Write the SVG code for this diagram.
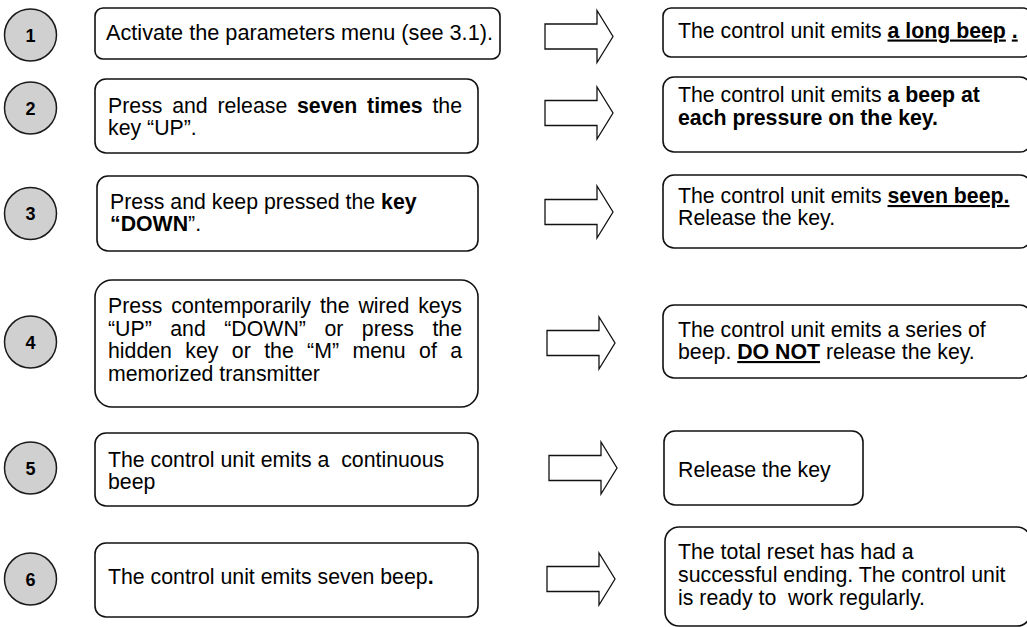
<svg xmlns="http://www.w3.org/2000/svg" width="1027" height="627" viewBox="0 0 1027 627">
  <style>
    .box { fill: #ffffff; stroke: #111111; stroke-width: 1.6; }
    .step { fill: #d0d0d0; stroke: #1a1a1a; stroke-width: 1.5; }
    .num { font-family: "Liberation Sans", Arial, sans-serif; font-size: 18px; font-weight: bold; fill: #000; text-anchor: middle; }
    .t { font-family: "Liberation Sans", Arial, sans-serif; font-size: 21.3px; fill: #000; }
    .big { font-size: 21.7px; }
    .b { font-weight: bold; }
    .u { text-decoration: underline; }
    .arrow { fill: #ffffff; stroke: #111111; stroke-width: 1.3; stroke-linejoin: miter; }
  </style>
  <defs>
    <!-- block arrow, origin at the left end of the shaft, centred vertically -->
    <polygon id="blockArrow" points="0,-12.5 52,-12.5 52,-26 68,0 52,26 52,12.5 0,12.5"/>
  </defs>

  <rect width="1027" height="627" fill="#ffffff"/>

  <!-- step numbers -->
  <g id="step1"><ellipse class="step" cx="30.5" cy="35" rx="26" ry="26"/><text class="num" x="30.5" y="41.5">1</text></g>
  <g id="step2"><ellipse class="step" cx="30.5" cy="108" rx="26" ry="26"/><text class="num" x="30.5" y="114.5">2</text></g>
  <g id="step3"><ellipse class="step" cx="30.5" cy="213.5" rx="26" ry="26"/><text class="num" x="30.5" y="220">3</text></g>
  <g id="step4"><ellipse class="step" cx="30.5" cy="342" rx="26" ry="26"/><text class="num" x="30.5" y="348.5">4</text></g>
  <g id="step5"><ellipse class="step" cx="30.5" cy="468" rx="26" ry="26"/><text class="num" x="30.5" y="474.5">5</text></g>
  <g id="step6"><ellipse class="step" cx="30.5" cy="579" rx="26" ry="26"/><text class="num" x="30.5" y="585.5">6</text></g>

  <!-- actions -->
  <g id="action1">
    <rect class="box" x="95" y="8" width="405" height="51" rx="8"/>
    <text class="t big" x="106" y="40">Activate the parameters menu (see 3.1).</text>
  </g>
  <g id="action2">
    <rect class="box" x="95" y="79" width="383" height="74" rx="11"/>
    <text class="t" y="113"><tspan x="108">Press</tspan><tspan x="172.16">and</tspan><tspan x="217.41">release</tspan><tspan class="b" x="296.97">seven</tspan><tspan class="b" x="367.08">times</tspan><tspan x="432.44">the</tspan></text>
    <text class="t" x="108" y="135">key “UP”.</text>
  </g>
  <g id="action3">
    <rect class="box" x="97" y="176" width="381" height="75" rx="11"/>
    <text class="t" x="110" y="209">Press and keep pressed the <tspan class="b">key</tspan></text>
    <text class="t" x="110" y="231"><tspan class="b">“DOWN</tspan>”.</text>
  </g>
  <g id="action4">
    <rect class="box" x="95" y="280" width="383" height="127" rx="17"/>
    <text class="t" y="313"><tspan x="108">Press</tspan><tspan x="171.34">contemporarily</tspan><tspan x="319.90">the</tspan><tspan x="358.41">wired</tspan><tspan x="418.20">keys</tspan></text>
    <text class="t" y="336"><tspan x="108">“UP”</tspan><tspan x="170.26">and</tspan><tspan x="224.28">“DOWN”</tspan><tspan x="324.39">or</tspan><tspan x="361.82">press</tspan><tspan x="432.39">the</tspan></text>
    <text class="t" y="358"><tspan x="108">hidden</tspan><tspan x="185.31">key</tspan><tspan x="231.82">or</tspan><tspan x="264.13">the</tspan><tspan x="307.11">“M”</tspan><tspan x="352.41">menu</tspan><tspan x="419.05">of</tspan><tspan x="450.18">a</tspan></text>
    <text class="t" x="108" y="381">memorized transmitter</text>
  </g>
  <g id="action5">
    <rect class="box" x="95" y="433" width="383" height="73" rx="11"/>
    <text class="t" x="108" y="467" xml:space="preserve">The control unit emits a  continuous</text>
    <text class="t" x="108" y="489">beep</text>
  </g>
  <g id="action6">
    <rect class="box" x="95" y="543" width="383" height="74" rx="11"/>
    <text class="t" x="108" y="584">The control unit emits seven beep<tspan class="b">.</tspan></text>
  </g>

  <!-- arrows from each action to its result -->
  <g id="connectors" class="arrow">
    <use href="#blockArrow" x="545" y="36.5"/>
    <use href="#blockArrow" x="545" y="113"/>
    <use href="#blockArrow" x="545" y="212"/>
    <use href="#blockArrow" x="547" y="343"/>
    <use href="#blockArrow" x="549" y="468"/>
    <use href="#blockArrow" x="547" y="579"/>
  </g>

  <!-- results -->
  <g id="result1">
    <rect class="box" x="663" y="8" width="368" height="49" rx="8"/>
    <text class="t" x="678" y="37.5">The control unit emits <tspan class="b u">a long beep</tspan><tspan class="b"> </tspan><tspan class="b u">.</tspan></text>
  </g>
  <g id="result2">
    <rect class="box" x="663" y="77" width="368" height="75" rx="11"/>
    <text class="t" x="678" y="102">The control unit emits <tspan class="b">a beep at</tspan></text>
    <text class="t b" x="678" y="125">each pressure on the key.</text>
  </g>
  <g id="result3">
    <rect class="box" x="663" y="175" width="368" height="73" rx="11"/>
    <text class="t" x="678" y="203">The control unit emits <tspan class="b u">seven beep.</tspan></text>
    <text class="t" x="678" y="225">Release the key.</text>
  </g>
  <g id="result4">
    <rect class="box" x="663" y="305" width="368" height="73" rx="11"/>
    <text class="t" x="678" y="337">The control unit emits a series of</text>
    <text class="t" x="678" y="359">beep. <tspan class="b u">DO NOT</tspan> release the key.</text>
  </g>
  <g id="result5">
    <rect class="box" x="664" y="431" width="199" height="74" rx="11"/>
    <text class="t" x="678" y="477">Release the key</text>
  </g>
  <g id="result6">
    <rect class="box" x="665" y="527" width="366" height="99" rx="14"/>
    <text class="t" x="678" y="559">The total reset has had a</text>
    <text class="t" x="678" y="582">successful ending. The control unit</text>
    <text class="t" x="678" y="605" xml:space="preserve">is ready to  work regularly.</text>
  </g>
</svg>
